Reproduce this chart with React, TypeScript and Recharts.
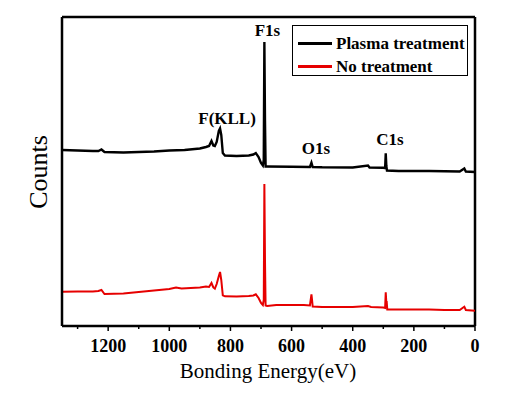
import { LineChart, Line, XAxis, YAxis, ReferenceDot, ReferenceLine } from "recharts";

// Binding energy (eV) vs counts (arbitrary units)
const plasmaEnergy = [
  1350, 1300, 1250, 1232, 1222, 1212, 1150, 1100, 1050, 1000, 950, 900, 880, 870, 862, 856, 851, 845, 838, 834, 830,
  825, 818, 780, 740, 725, 717, 708, 700, 694, 691, 689, 687, 685, 680, 600, 540, 535, 531, 500, 400, 350, 345, 300,
  294, 292, 290, 288, 250, 150, 100, 50, 35, 30, 0,
];
const plasmaCounts = [
  176, 175.5, 175, 175, 176.5, 174, 173.5, 174, 174.5, 175.5, 176, 177.5, 179, 180, 185, 180.5, 180, 184, 195, 197.5, 191,
  173, 170.5, 170, 170.5, 171.5, 173, 169, 163, 160.5, 166, 284, 206, 159.5, 159.5, 159.3, 159, 163.3, 159, 158.7, 158.5,
  160.5, 158.5, 158.3, 158, 172.7, 160, 155.5, 155, 155, 154.7, 154.5, 157.5, 154.5, 154,
];

const untreatedEnergy = [
  1350, 1300, 1250, 1232, 1222, 1212, 1150, 1100, 1050, 1000, 978, 960, 900, 880, 870, 862, 856, 851, 845, 838, 834, 830,
  825, 818, 780, 740, 725, 717, 708, 700, 694, 691, 689, 687, 685, 680, 650, 600, 560, 540, 535, 533, 531, 500, 450, 400,
  350, 340, 300, 294, 292, 290, 289, 287, 250, 200, 150, 100, 50, 35, 30, 0,
];
const untreatedCounts = [
  34.3, 34.5, 34.5, 35, 36, 32, 32.5, 34, 35.5, 37, 38.5, 37.5, 38.5, 39.5, 39, 43, 38.5, 37.3, 42, 50, 54, 46,
  30.7, 29.7, 29.5, 30, 30.5, 31.7, 28, 23, 21, 26, 142, 66, 20.5, 20, 21, 21, 21, 20.5, 31.7, 26, 19.5, 19, 19, 19,
  20, 19, 18.5, 18, 33.7, 23, 25, 16.5, 16.5, 16.5, 16.5, 16, 16, 19.3, 16, 15.3,
];

const series = [
  { name: "Plasma treatment", color: "#000000", width: 2.4, energy: plasmaEnergy, counts: plasmaCounts },
  { name: "No treatment", color: "#e60000", width: 2, energy: untreatedEnergy, counts: untreatedCounts },
];

const peakNames = ["F1s", "F(KLL)", "O1s", "C1s"];
const peakLabelEnergy = [679, 811, 520, 278];
const peakLabelCounts = [290, 202, 172, 181];

const energyTicks = [0, 100, 200, 300, 400, 500, 600, 700, 800, 900, 1000, 1100, 1200, 1300];
const energyDomain = [0, 1351];
const countsDomain = [0, 309];

const serif = '"Liberation Serif", "Times New Roman", serif';

const EnergyTick = (props: any) => {
  const { x, y, payload } = props;
  const major = payload.value % 200 === 0;
  return (
    <g>
      <line x1={x} x2={x} y1={y} y2={y + (major ? 5 : 3)} stroke="#000" strokeWidth={1.5} />
      {major && (
        <text x={x} y={y + 26} textAnchor="middle" fontFamily={serif} fontWeight="bold" fontSize={18} fill="#000">
          {payload.value}
        </text>
      )}
    </g>
  );
};

export default function App() {
  const rows = series.map((s) => s.energy.map((e, i) => ({ energy: e, counts: s.counts[i] })));

  return (
    <div style={{ position: "absolute", left: 0, top: 0, width: 509, height: 397, background: "#fff" }}>
      <LineChart width={509} height={397} margin={{ top: 17, right: 34, bottom: 0, left: 0 }}>
        <XAxis
          type="number"
          dataKey="energy"
          domain={energyDomain}
          reversed
          allowDataOverflow
          ticks={energyTicks}
          interval={0}
          tick={<EnergyTick />}
          tickLine={false}
          tickSize={0}
          tickMargin={0}
          height={71}
          axisLine={{ stroke: "#000", strokeWidth: 2.5 }}
          label={() => (
            <text x={268} y={378} textAnchor="middle" fontFamily={serif} fontSize={21} fill="#000">
              Bonding Energy(eV)
            </text>
          )}
        />
        <YAxis
          type="number"
          domain={countsDomain}
          allowDataOverflow
          width={62}
          tick={false}
          tickLine={false}
          axisLine={{ stroke: "#000", strokeWidth: 2.5 }}
          label={() => (
            <text x={38} y={172} transform="rotate(-90 38 172)" textAnchor="middle" dominantBaseline="central"
              fontFamily={serif} fontSize={26} fill="#000">
              Counts
            </text>
          )}
        />
        {/* top and right frame */}
        <ReferenceLine y={countsDomain[1]} stroke="#000" strokeWidth={2.5} />
        <ReferenceLine x={energyDomain[0]} stroke="#000" strokeWidth={2.5} />
        {series.map((s, k) => (
          <Line
            key={s.name}
            data={rows[k]}
            dataKey="counts"
            name={s.name}
            type="linear"
            stroke={s.color}
            strokeWidth={s.width}
            dot={false}
            isAnimationActive={false}
          />
        ))}
        {peakNames.map((p, i) => (
          <ReferenceDot
            key={p}
            x={peakLabelEnergy[i]}
            y={peakLabelCounts[i]}
            r={0}
            stroke="none"
            fill="none"
            label={{ value: p, position: "top", offset: 0, fontFamily: serif, fontWeight: "bold", fontSize: 17, fill: "#000" }}
          />
        ))}
      </LineChart>
      <div
        style={{
          position: "absolute",
          left: 292,
          top: 25,
          width: 174,
          height: 49,
          border: "1.5px solid #000",
          background: "#fff",
          fontFamily: serif,
          fontWeight: "bold",
          fontSize: 17,
        }}
      >
        {series.map((s, k) => (
          <div key={s.name} style={{ position: "absolute", left: 5, top: 9 + k * 23, display: "flex", alignItems: "center", lineHeight: "17px" }}>
            <span style={{ display: "inline-block", width: 34, height: k === 0 ? 3 : 2.5, background: s.color, marginRight: 4 }} />
            <span style={{ whiteSpace: "nowrap" }}>{s.name}</span>
          </div>
        ))}
      </div>
    </div>
  );
}
